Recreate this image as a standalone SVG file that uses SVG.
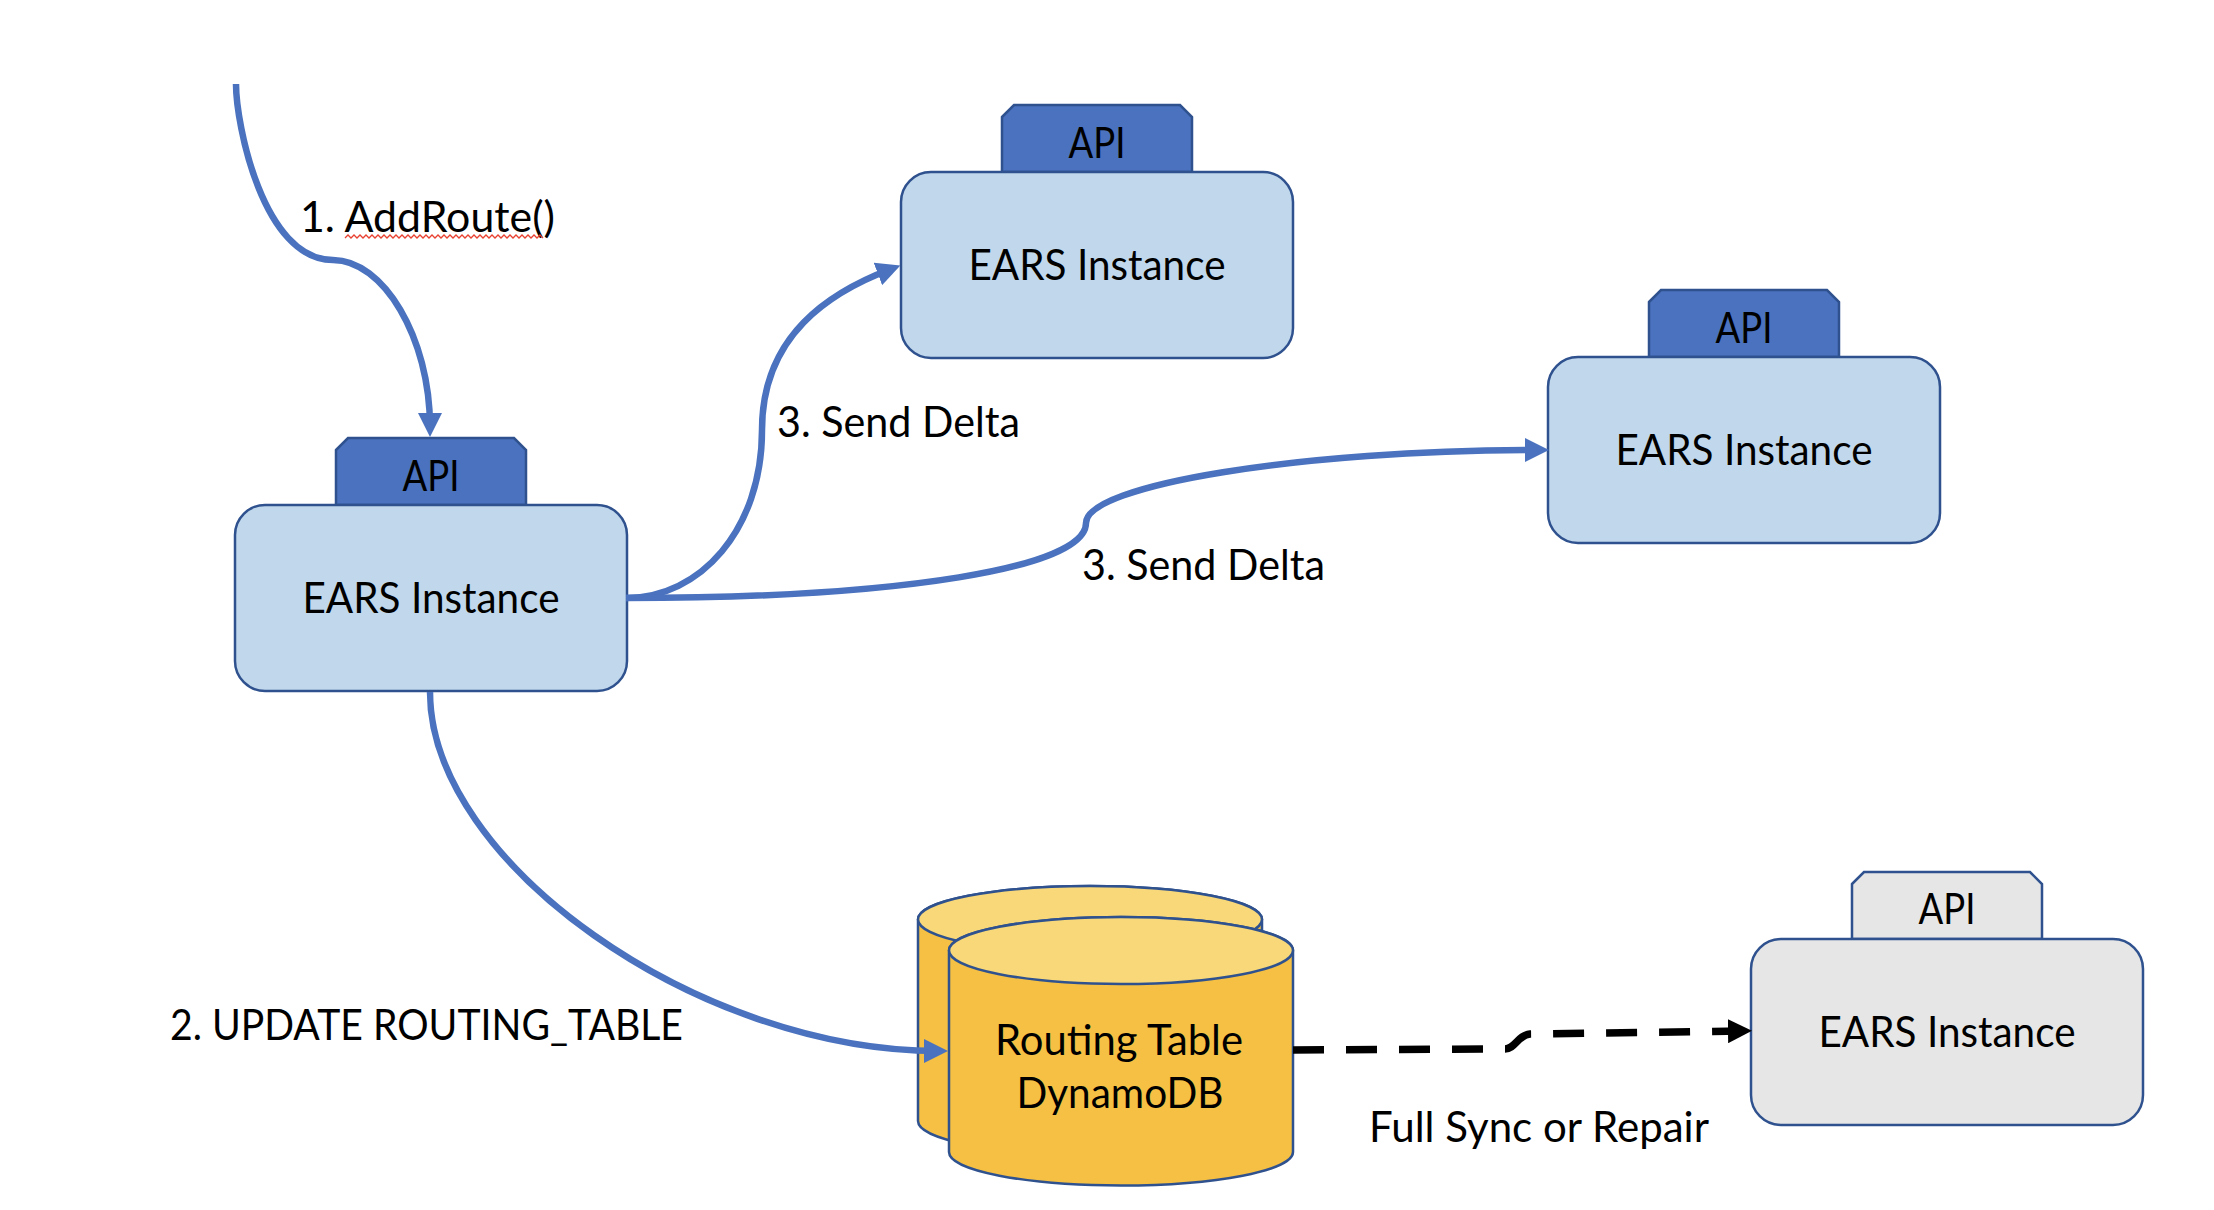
<svg xmlns="http://www.w3.org/2000/svg" width="2214" height="1210" viewBox="0 0 2214 1210">
<defs>
<style>
.box{fill:#C1D8EC;stroke:#2F528F;stroke-width:2.5}
.gbox{fill:#E6E6E6;stroke:#2F528F;stroke-width:2.5}
.tab{fill:#4A72BE;stroke:#2F528F;stroke-width:2.5}
.gtab{fill:#E6E6E6;stroke:#2F528F;stroke-width:2.5}
.t{font-family:Lato,"Open Sans","Liberation Sans",sans-serif;font-size:42px;fill:#000}
.c{text-anchor:middle}
.conn{fill:none;stroke:#4A72BE;stroke-width:6.5}
.dash{fill:none;stroke:#000;stroke-width:7.5;stroke-dasharray:31 22}
.cylb{fill:#F5C043;stroke:#2F528F;stroke-width:2.5}
.cylt{fill:#F8D878;stroke:#2F528F;stroke-width:2.5}
</style>
<marker id="ab" viewBox="0 0 24 24" markerUnits="userSpaceOnUse" markerWidth="24" markerHeight="24" refX="14" refY="12" orient="auto">
<path d="M0,0 L24,12 L0,24 Z" fill="#4A72BE"/>
</marker>
<marker id="ak" viewBox="0 0 24 24" markerUnits="userSpaceOnUse" markerWidth="24" markerHeight="24" refX="14" refY="12" orient="auto">
<path d="M0,0 L24,12 L0,24 Z" fill="#000"/>
</marker>
</defs>
<rect width="2214" height="1210" fill="#fff"/>

<g id="ears-a">
<path class="tab" d="M336,450 L348,438 L514,438 L526,450 L526,505 L336,505 Z"/>
<rect class="box" x="235" y="505" width="392" height="186" rx="30"/>
<text class="t c" x="431" y="491" textLength="57" lengthAdjust="spacingAndGlyphs">API</text>
<text class="t c" x="431" y="613" textLength="257" lengthAdjust="spacingAndGlyphs">EARS Instance</text>
</g>

<g id="ears-b">
<path class="tab" d="M1002,117 L1014,105 L1180,105 L1192,117 L1192,172 L1002,172 Z"/>
<rect class="box" x="901" y="172" width="392" height="186" rx="30"/>
<text class="t c" x="1097" y="158" textLength="57" lengthAdjust="spacingAndGlyphs">API</text>
<text class="t c" x="1097" y="280" textLength="257" lengthAdjust="spacingAndGlyphs">EARS Instance</text>
</g>

<g id="ears-c">
<path class="tab" d="M1649,302 L1661,290 L1827,290 L1839,302 L1839,357 L1649,357 Z"/>
<rect class="box" x="1548" y="357" width="392" height="186" rx="30"/>
<text class="t c" x="1744" y="343" textLength="57" lengthAdjust="spacingAndGlyphs">API</text>
<text class="t c" x="1744" y="465" textLength="257" lengthAdjust="spacingAndGlyphs">EARS Instance</text>
</g>

<g id="ears-d">
<path class="gtab" d="M1852,884 L1864,872 L2030,872 L2042,884 L2042,939 L1852,939 Z"/>
<rect class="gbox" x="1751" y="939" width="392" height="186" rx="30"/>
<text class="t c" x="1947" y="924" textLength="57" lengthAdjust="spacingAndGlyphs">API</text>
<text class="t c" x="1947" y="1047" textLength="257" lengthAdjust="spacingAndGlyphs">EARS Instance</text>
</g>

<g id="routing-table">
<path class="cylb" d="M918,919.5 V1121 A172,33.5 0 0 0 1262,1121 V919.5 A172,33.5 0 0 0 918,919.5 Z"/>
<ellipse class="cylt" cx="1090" cy="919.5" rx="172" ry="33.5"/>
<path class="cylb" d="M949,950.5 V1152 A172,33.5 0 0 0 1293,1152 V950.5 A172,33.5 0 0 0 949,950.5 Z"/>
<ellipse class="cylt" cx="1121" cy="950.5" rx="172" ry="33.5"/>
<text class="t c" x="1119" y="1055" textLength="248" lengthAdjust="spacingAndGlyphs">Routing Table</text>
<text class="t c" x="1120" y="1108" textLength="207" lengthAdjust="spacingAndGlyphs">DynamoDB</text>
</g>

<g id="labels">
<text class="t" x="300" y="232" textLength="255" lengthAdjust="spacingAndGlyphs">1. AddRoute()</text>
<path d="M345,238 l3,-3 l3,3 l3,-3 l3,3 l3,-3 l3,3 l3,-3 l3,3 l3,-3 l3,3 l3,-3 l3,3 l3,-3 l3,3 l3,-3 l3,3 l3,-3 l3,3 l3,-3 l3,3 l3,-3 l3,3 l3,-3 l3,3 l3,-3 l3,3 l3,-3 l3,3 l3,-3 l3,3 l3,-3 l3,3 l3,-3 l3,3 l3,-3 l3,3 l3,-3 l3,3 l3,-3 l3,3 l3,-3 l3,3 l3,-3 l3,3 l3,-3 l3,3 l3,-3 l3,3 l3,-3 l3,3 l3,-3 l3,3 l3,-3 l3,3 l3,-3 l3,3 l3,-3 l3,3 l3,-3 l3,3 l3,-3 l3,3 l3,-3 l3,3 l3,-3 l3,3" fill="none" stroke="#E8412F" stroke-width="1.3"/>
<text class="t" x="777" y="437" textLength="243" lengthAdjust="spacingAndGlyphs">3. Send Delta</text>
<text class="t" x="1082" y="580" textLength="243" lengthAdjust="spacingAndGlyphs">3. Send Delta</text>
<text class="t" x="170" y="1040" textLength="513" lengthAdjust="spacingAndGlyphs">2. UPDATE ROUTING_TABLE</text>
<text class="t" x="1369" y="1142" textLength="340" lengthAdjust="spacingAndGlyphs">Full Sync or Repair</text>
</g>

<g id="connectors">
<path class="conn" d="M236,84 C236,124 263,260 333,260 C383,260 430,337 430,427" marker-end="url(#ab)"/>
<path class="conn" d="M626,598 C700,598 762,530 762,430 C762,335 830,292 891,269" marker-end="url(#ab)"/>
<path class="conn" d="M626,598 C900,598 1086,568 1086,523 C1086,485 1300,450 1539,450" marker-end="url(#ab)"/>
<path class="conn" d="M430,692 C430,862 698,1051 938,1051" marker-end="url(#ab)"/>
<path class="dash" d="M1293,1050 L1505,1049 C1515,1049 1518,1035 1530,1034 L1742,1031" marker-end="url(#ak)"/>
</g>
</svg>
